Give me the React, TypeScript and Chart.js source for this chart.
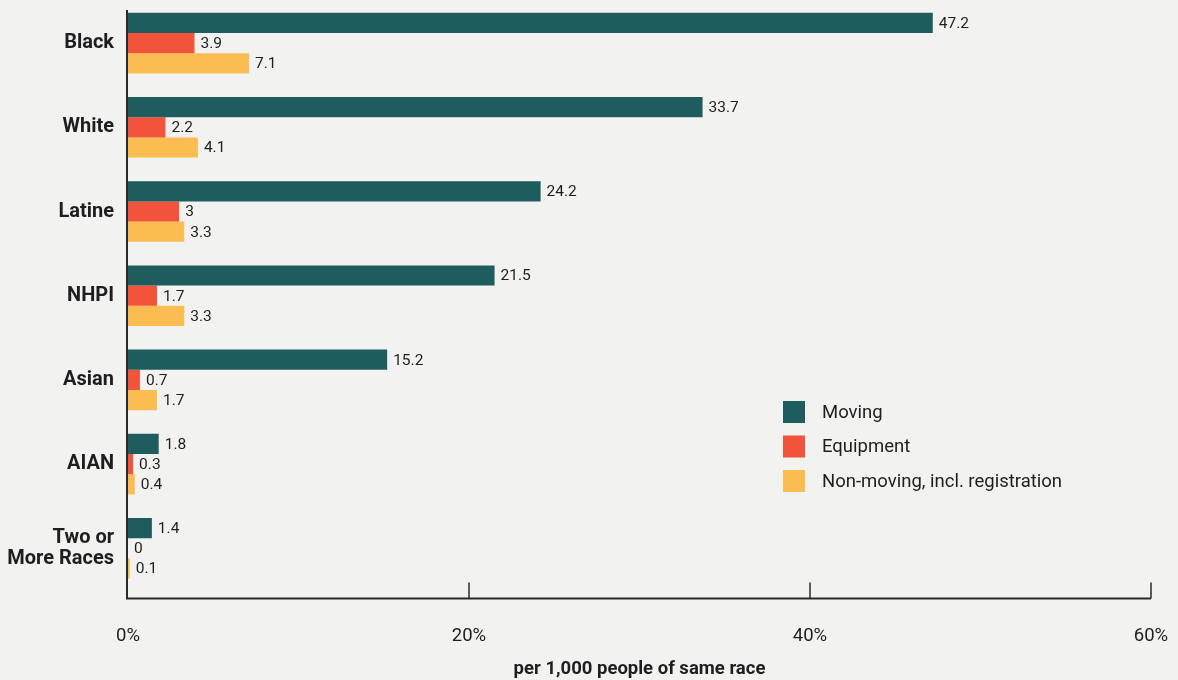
import React, { useEffect, useRef } from "react";
import { Chart, registerables } from "chart.js";

Chart.register(...registerables);

const categories: (string | string[])[] = ["Black", "White", "Latine", "NHPI", "Asian", "AIAN", ["Two or", "More Races"]];
const movingValues = [47.2, 33.7, 24.2, 21.5, 15.2, 1.8, 1.4];
const equipmentValues = [3.9, 2.2, 3, 1.7, 0.7, 0.3, 0];
const nonMovingValues = [7.1, 4.1, 3.3, 3.3, 1.7, 0.4, 0.1];
const seriesLabels = ["Moving", "Equipment", "Non-moving, incl. registration"];
const xTicks = [0, 20, 40, 60];
const axisTitle = "per 1,000 people of same race";

const COLORS = ["#1f5c5e", "#f2533b", "#fbbd52"];
const FONT = "Roboto, 'Liberation Sans', sans-serif";
const INK = "#1e1e1e";

const customPlugin = {
  id: "custom",
  afterDatasetsDraw(chart: any) {
    const { ctx, chartArea, scales } = chart;
    const xs = scales.x;
    ctx.save();
    // data labels
    ctx.font = `15.5px ${FONT}`;
    ctx.fillStyle = INK;
    ctx.textBaseline = "middle";
    ctx.textAlign = "left";
    chart.data.datasets.forEach((ds: any, i: number) => {
      const meta = chart.getDatasetMeta(i);
      meta.data.forEach((bar: any, j: number) => {
        const v = ds.data[j];
        ctx.fillText(String(v), bar.x + 6, bar.y + 1);
      });
    });
    // axes
    const axisY = chartArea.bottom + 8;
    const x0 = xs.getPixelForValue(0) - 1;
    ctx.strokeStyle = "#2a2a2a";
    ctx.lineWidth = 2;
    ctx.beginPath();
    ctx.moveTo(x0, chartArea.top + 9);
    ctx.lineTo(x0, axisY);
    ctx.lineTo(xs.getPixelForValue(60), axisY);
    ctx.stroke();
    ctx.lineWidth = 1.5;
    xTicks.slice(1).forEach((t) => {
      const px = xs.getPixelForValue(t);
      ctx.beginPath();
      ctx.moveTo(px, axisY - 16);
      ctx.lineTo(px, axisY);
      ctx.stroke();
    });
    // legend
    ctx.font = `18.5px ${FONT}`;
    ctx.textBaseline = "middle";
    seriesLabels.forEach((lab, i) => {
      const cy = 412 + i * 34.5;
      ctx.fillStyle = COLORS[i];
      ctx.fillRect(783, cy - 11, 22, 22);
      ctx.fillStyle = INK;
      ctx.fillText(lab, 822, cy + 1);
    });
    ctx.restore();
  },
};

export default function App() {
  const ref = useRef<HTMLCanvasElement>(null);
  useEffect(() => {
    if (!ref.current) return;
    const chart = new Chart(ref.current, {
      type: "bar",
      data: {
        labels: categories as any,
        datasets: [
          { label: seriesLabels[0], data: movingValues, backgroundColor: COLORS[0] },
          { label: seriesLabels[1], data: equipmentValues, backgroundColor: COLORS[1] },
          { label: seriesLabels[2], data: nonMovingValues, backgroundColor: COLORS[2] },
        ],
      },
      options: {
        indexAxis: "y",
        animation: false,
        responsive: false,
        maintainAspectRatio: false,
        layout: { padding: { top: 1, right: 27, left: 0, bottom: 0 } },
        datasets: { bar: { categoryPercentage: 0.72, barPercentage: 1.0 } },
        plugins: { legend: { display: false }, tooltip: { enabled: false } },
        scales: {
          x: {
            type: "linear",
            min: 0,
            max: 60,
            afterBuildTicks: (s: any) => {
              s.ticks = xTicks.map((v) => ({ value: v }));
            },
            afterFit: (s: any) => {
              s.height = 89.6;
              s.paddingLeft = 0;
              s.paddingRight = 0;
            },
            grid: { display: false, drawTicks: false },
            border: { display: false },
            ticks: {
              padding: 35,
              color: INK,
              font: { family: FONT, size: 18.5 },
              callback: (v: any) => `${v}%`,
            },
            title: {
              display: true,
              text: axisTitle,
              color: INK,
              font: { family: FONT, size: 18.5, weight: "bold" },
              padding: { top: 10, bottom: 0 },
            },
          },
          y: {
            type: "category",
            afterFit: (s: any) => {
              s.width = 128;
              s.paddingTop = 0;
              s.paddingBottom = 0;
            },
            grid: { display: false, drawTicks: false },
            border: { display: false },
            ticks: {
              padding: 14,
              color: INK,
              font: { family: FONT, size: 20, weight: "bold", lineHeight: 1.05 },
            },
          },
        },
      },
      plugins: [customPlugin],
    });
    return () => chart.destroy();
  }, []);
  return (
    <div style={{ position: "fixed", left: 0, top: 0, width: 1178, height: 680, background: "#f2f2f0" }}>
      <canvas ref={ref} width={1178} height={680} style={{ display: "block" }} />
    </div>
  );
}
